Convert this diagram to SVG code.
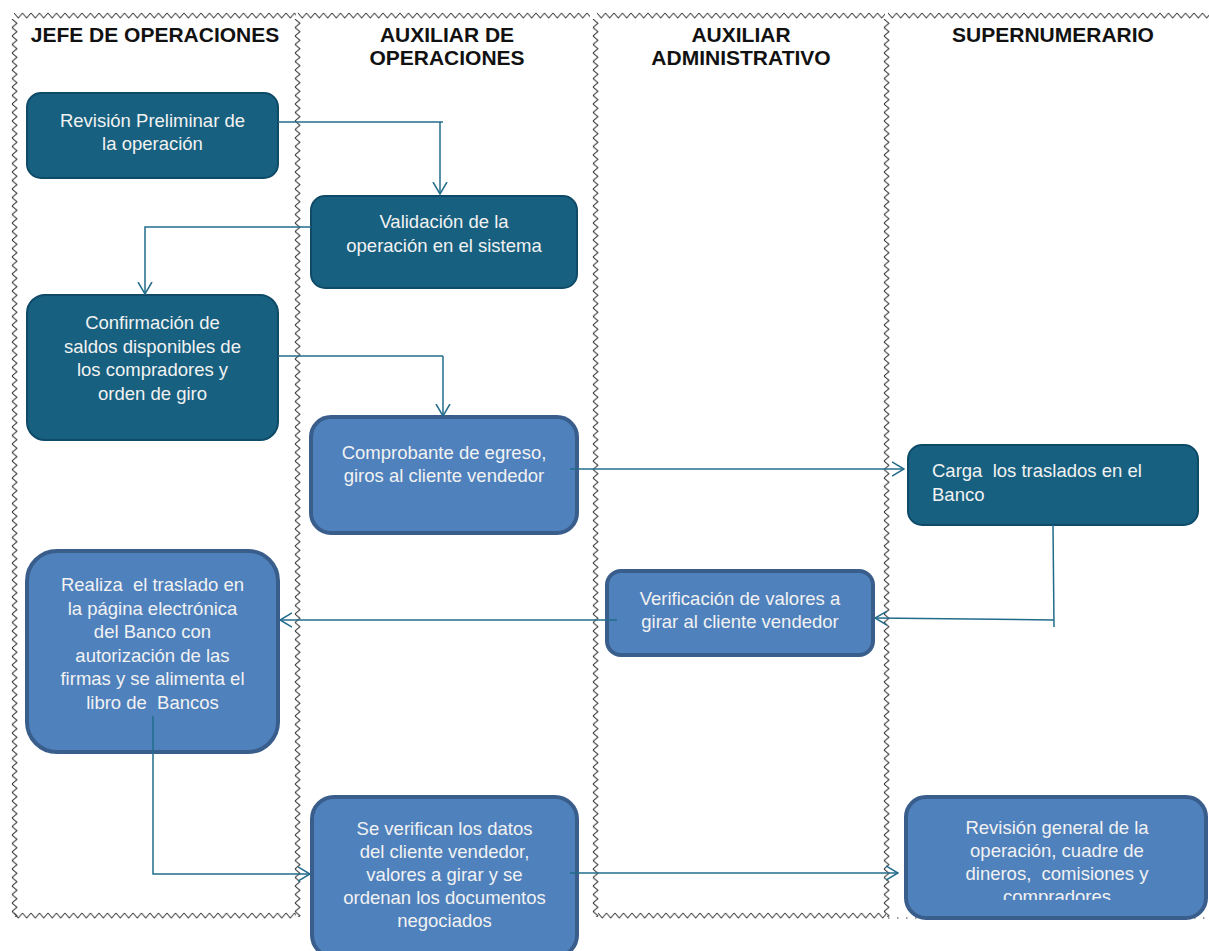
<svg xmlns="http://www.w3.org/2000/svg" width="1209" height="951" viewBox="0 0 1209 951">
<style>
.hd{font-family:"Liberation Sans",Arial,sans-serif;font-weight:bold;font-size:21px;fill:#111;text-anchor:middle}
.tx{font-family:"Liberation Sans",Arial,sans-serif;font-size:18.5px;fill:#F2F2F2;text-anchor:middle}
.txl{font-family:"Liberation Sans",Arial,sans-serif;font-size:18.5px;fill:#F2F2F2}
.dk{fill:#17607F;stroke:#0F4B69;stroke-width:2}
.lt{fill:#4F81BD;stroke:#3A5E8C;stroke-width:4}
.cn{fill:none;stroke:#226C8B;stroke-width:1.5}
</style>
<defs>
<pattern id="zh" width="8.5" height="7" patternUnits="userSpaceOnUse"><path d="M0,1 L4.25,6 L8.5,1" fill="none" stroke="#3a3a3a" stroke-width="1"/></pattern>
<pattern id="zv" width="7" height="8.5" patternUnits="userSpaceOnUse"><path d="M1,0 L6,4.25 L1,8.5" fill="none" stroke="#3a3a3a" stroke-width="1"/></pattern>
<marker id="ar" viewBox="0 0 13 16" refX="12" refY="8" markerWidth="13" markerHeight="16" markerUnits="userSpaceOnUse" orient="auto"><path d="M0,1 L12,8 L0,15" fill="none" stroke="#226C8B" stroke-width="1.5"/></marker>
<clipPath id="c9"><rect x="900" y="790" width="309" height="110"/></clipPath>
</defs>
<rect width="1209" height="951" fill="#fff"/>
<g id="lanes">
<rect width="282" height="7" fill="url(#zh)" transform="translate(14,12)"/>
<rect width="292" height="7" fill="url(#zh)" transform="translate(298,12)"/>
<rect width="288" height="7" fill="url(#zh)" transform="translate(597,12)"/>
<rect width="321" height="7" fill="url(#zh)" transform="translate(888,12)"/>
<rect width="7" height="898" fill="url(#zv)" transform="translate(11,19)"/>
<rect width="7" height="898" fill="url(#zv)" transform="translate(294,19)"/>
<rect width="7" height="898" fill="url(#zv)" transform="translate(592,19)"/>
<rect width="7" height="898" fill="url(#zv)" transform="translate(883,19)"/>
<rect width="282" height="7" fill="url(#zh)" transform="translate(14,912)"/>
<rect width="288" height="7" fill="url(#zh)" transform="translate(598,912)"/>
<line x1="888" y1="918" x2="1209" y2="918" stroke="#3a3a3a" stroke-width="1" stroke-dasharray="1.5,7.5"/>
<text class="hd" x="155" y="42">JEFE DE OPERACIONES</text>
<text class="hd" x="447" y="42">AUXILIAR DE</text>
<text class="hd" x="447" y="65">OPERACIONES</text>
<text class="hd" x="741" y="42">AUXILIAR</text>
<text class="hd" x="741" y="65">ADMINISTRATIVO</text>
<text class="hd" x="1053" y="42">SUPERNUMERARIO</text>
</g>
<g id="n1"><rect class="dk" x="27" y="93" width="251" height="85" rx="14"/>
<text class="tx" x="152.5" y="127">Revisión Preliminar de</text><text class="tx" x="152.5" y="150">la operación</text></g>
<g id="n2"><rect class="dk" x="311" y="196" width="266" height="92" rx="14"/>
<text class="tx" x="444" y="228">Validación de la</text><text class="tx" x="444" y="252">operación en el sistema</text></g>
<g id="n3"><rect class="dk" x="27" y="295" width="251" height="145" rx="18"/>
<text class="tx" x="152.5" y="329">Confirmación de</text><text class="tx" x="152.5" y="352.5">saldos disponibles de</text><text class="tx" x="152.5" y="376">los compradores y</text><text class="tx" x="152.5" y="399.5">orden de giro</text></g>
<g id="n4"><rect class="lt" x="311" y="417" width="266" height="116" rx="20"/>
<text class="tx" x="444" y="459">Comprobante de egreso,</text><text class="tx" x="444" y="482">giros al cliente vendedor</text></g>
<g id="n5"><rect class="dk" x="908" y="445" width="290" height="80" rx="14"/>
<text class="txl" x="932" y="477" xml:space="preserve">Carga  los traslados en el</text><text class="txl" x="932" y="501">Banco</text></g>
<g id="n6"><rect class="lt" x="27" y="551" width="251" height="201" rx="30"/>
<text class="tx" x="152.5" y="591" xml:space="preserve">Realiza  el traslado en</text><text class="tx" x="152.5" y="614.5">la página electrónica</text><text class="tx" x="152.5" y="638">del Banco con</text><text class="tx" x="152.5" y="661.5">autorización de las</text><text class="tx" x="152.5" y="685">firmas y se alimenta el</text><text class="tx" x="152.5" y="708.5" xml:space="preserve">libro de  Bancos</text></g>
<g id="n7"><rect class="lt" x="607" y="571" width="266" height="84" rx="14"/>
<text class="tx" x="740" y="605">Verificación de valores a</text><text class="tx" x="740" y="628">girar al cliente vendedor</text></g>
<g id="n8"><rect class="lt" x="312" y="797" width="265" height="160" rx="22"/>
<text class="tx" x="444.5" y="835">Se verifican los datos</text><text class="tx" x="444.5" y="858">del cliente vendedor,</text><text class="tx" x="444.5" y="881">valores a girar y se</text><text class="tx" x="444.5" y="904">ordenan los documentos</text><text class="tx" x="444.5" y="927">negociados</text></g>
<g id="n9"><rect class="lt" x="906" y="797" width="300" height="121" rx="20"/>
<g clip-path="url(#c9)"><text class="tx" x="1057" y="834">Revisión general de la</text><text class="tx" x="1057" y="857">operación, cuadre de</text><text class="tx" x="1057" y="880" xml:space="preserve">dineros,  comisiones y</text><text class="tx" x="1057" y="903">compradores</text></g></g>
<g id="connectors">
<polyline class="cn" points="278,122 443,122"/><polyline class="cn" points="440,122 440,194" marker-end="url(#ar)"/>
<polyline class="cn" points="311,227 145,227 145,294" marker-end="url(#ar)"/>
<polyline class="cn" points="278,356 443,356"/><polyline class="cn" points="443,356 443,416" marker-end="url(#ar)"/>
<polyline class="cn" points="570,469 904,469" marker-end="url(#ar)"/>
<polyline class="cn" points="1053,525 1054,627"/><polyline class="cn" points="1054,620 875,618" marker-end="url(#ar)"/>
<polyline class="cn" points="617,620 280,620" marker-end="url(#ar)"/>
<polyline class="cn" points="153,716 153,874 310,874" marker-end="url(#ar)"/>
<polyline class="cn" points="570,873 898,873" marker-end="url(#ar)"/>
</g>
</svg>
